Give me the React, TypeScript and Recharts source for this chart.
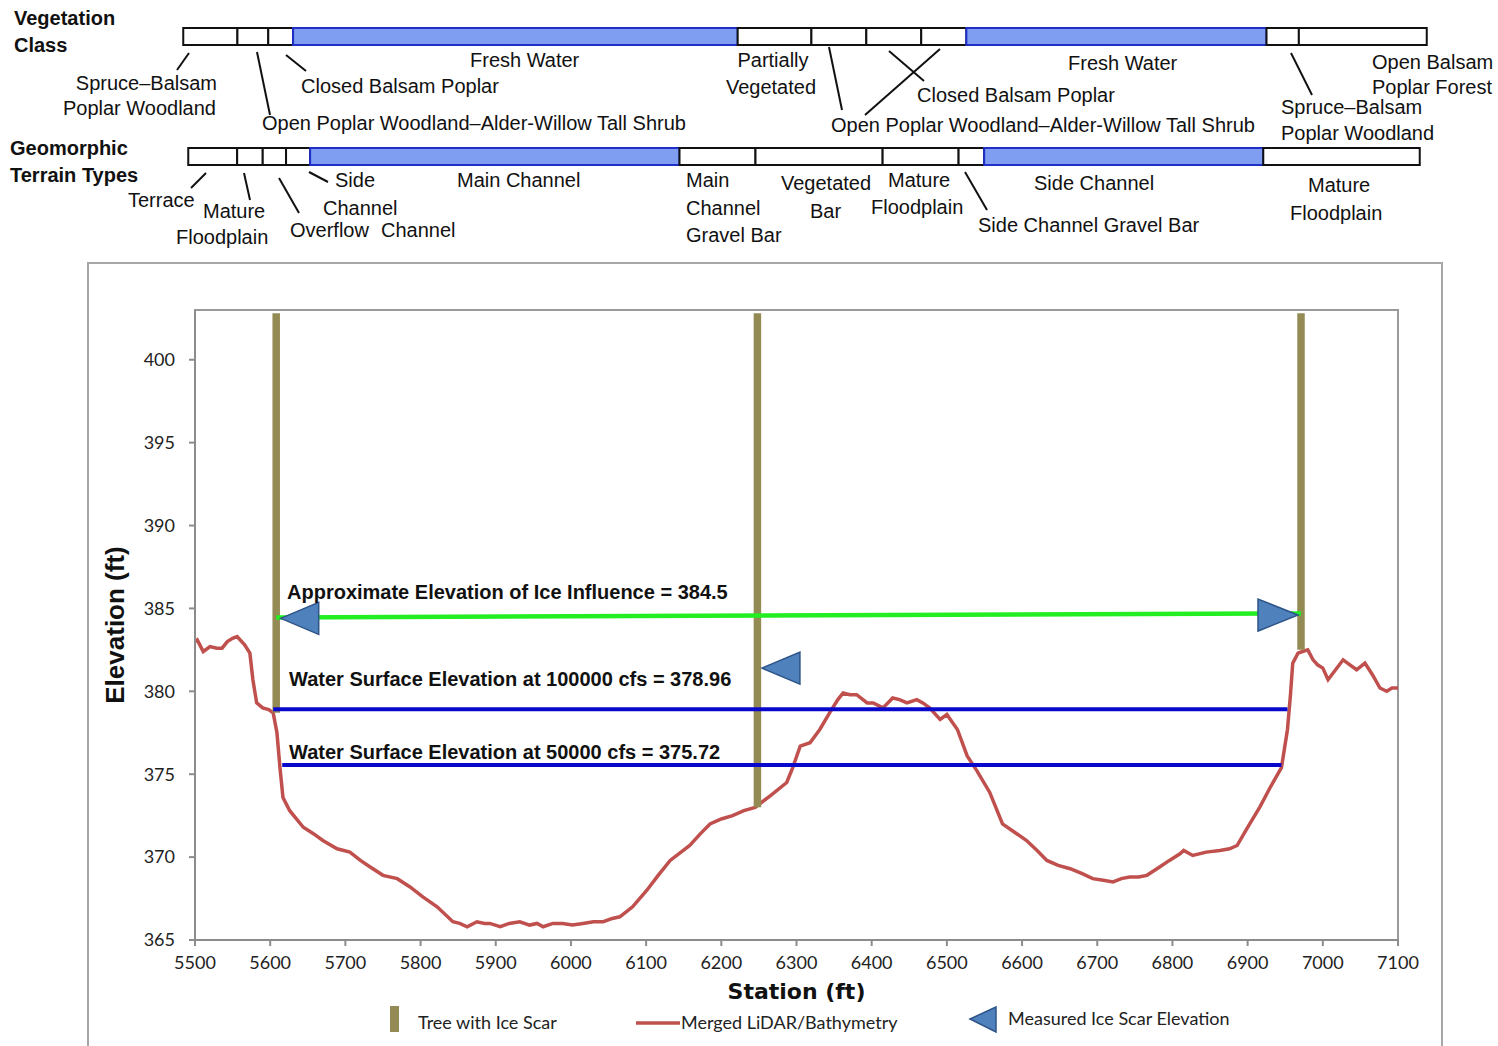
import React from 'react';
import { BarChart, Bar, ComposedChart, Line, Scatter, XAxis, YAxis, ReferenceLine, ReferenceArea } from 'recharts';

// ground profile (merged LiDAR / bathymetry), station ft -> elevation ft
const stations = [
  5500, 5503, 5511, 5520, 5529, 5536, 5543, 5550, 5556, 5566, 5573, 5577, 5582, 5590, 5598, 5604,
  5609, 5613, 5617, 5626, 5644, 5658, 5670, 5689, 5706, 5720, 5733, 5750, 5769, 5786, 5803, 5822,
  5843, 5852, 5862, 5875, 5885, 5892, 5906, 5918, 5932, 5945, 5955, 5963, 5976, 5989, 6002, 6016,
  6030, 6043, 6055, 6065, 6082, 6101, 6116, 6132, 6158, 6172, 6185, 6200, 6215, 6230, 6245, 6265,
  6287, 6295, 6305, 6318, 6331, 6344, 6355, 6362, 6371, 6380, 6394, 6402, 6415, 6428, 6437, 6447,
  6460, 6468, 6477, 6491, 6500, 6514, 6527, 6540, 6557, 6574, 6590, 6606, 6620, 6633, 6648, 6664,
  6680, 6694, 6708, 6721, 6732, 6743, 6755, 6766, 6783, 6796, 6810, 6815, 6827, 6845, 6863, 6876,
  6886, 6900, 6916, 6930, 6945, 6953, 6957, 6960, 6967, 6973, 6980, 6987, 6993, 7000, 7007, 7017,
  7027, 7036, 7045, 7056, 7066, 7076, 7085, 7092, 7100,
];
const elevations = [
  383.0, 383.1, 382.4, 382.7, 382.6, 382.6, 383.0, 383.2, 383.3, 382.8, 382.3, 380.7, 379.3, 379.0, 378.9, 378.7,
  377.5, 375.4, 373.6, 372.8, 371.8, 371.4, 371.0, 370.5, 370.3, 369.8, 369.4, 368.9, 368.7, 368.2, 367.6, 367.0,
  366.1, 366.0, 365.8, 366.1, 366.0, 366.0, 365.8, 366.0, 366.1, 365.9, 366.0, 365.8, 366.0, 366.0, 365.9, 366.0,
  366.1, 366.1, 366.3, 366.4, 367.0, 368.0, 368.9, 369.8, 370.7, 371.4, 372.0, 372.3, 372.5, 372.8, 373.0, 373.7,
  374.5, 375.4, 376.7, 376.9, 377.7, 378.7, 379.5, 379.9, 379.8, 379.8, 379.3, 379.3, 379.0, 379.6, 379.5, 379.3,
  379.5, 379.3, 379.0, 378.3, 378.6, 377.7, 376.1, 375.2, 373.9, 372.0, 371.5, 371.0, 370.4, 369.8, 369.5, 369.3,
  369.0, 368.7, 368.6, 368.5, 368.7, 368.8, 368.8, 368.9, 369.4, 369.8, 370.2, 370.4, 370.1, 370.3, 370.4, 370.5,
  370.7, 371.8, 373.0, 374.2, 375.4, 377.7, 379.8, 381.7, 382.3, 382.4, 382.5, 381.9, 381.6, 381.4, 380.7, 381.3,
  381.9, 381.6, 381.3, 381.7, 381.0, 380.2, 380.0, 380.2, 380.2,
];

// trees with ice scars
const treeStations = [5608, 6248, 6971];
const treeBase = [378.7, 373.0, 382.5];
const treeTop = 402.8;

// measured scar elevations (triangles point at the tree)
const scarLeftStations = [5614, 6254];
const scarLeftElev = [384.4, 381.4];
const scarRightStations = [6967];
const scarRightElev = [384.6];

// ice influence line and water surfaces
const iceStations = [5608, 6971];
const iceElev = [384.45, 384.7];
const wseStart = [5604, 5616];
const wseEnd = [6953, 6945];
const wseElev = [378.92, 375.55];

const xTicks = [5500, 5600, 5700, 5800, 5900, 6000, 6100, 6200, 6300, 6400, 6500, 6600, 6700, 6800, 6900, 7000, 7100];
const yTicks = [365, 370, 375, 380, 385, 390, 395, 400];

// class strips above the chart (edges in station ft)
const vegEdges = [5484, 5556, 5597, 5630, 6221, 6319, 6392, 6465, 6525, 6924, 6967, 7137];
const vegClass = [
  'Spruce–Balsam Poplar Woodland', 'Open Poplar Woodland–Alder-Willow Tall Shrub', 'Closed Balsam Poplar',
  'Fresh Water', 'Partially Vegetated', 'Open Poplar Woodland–Alder-Willow Tall Shrub', 'Closed Balsam Poplar',
  'Open Poplar Woodland–Alder-Willow Tall Shrub', 'Fresh Water', 'Spruce–Balsam Poplar Woodland', 'Open Balsam Poplar Forest',
];
const vegWet = vegClass.map((c) => c === 'Fresh Water');

const geoEdges = [5491, 5556, 5590, 5621, 5653, 6144, 6245, 6414, 6515, 6549, 6920, 7128];
const geoClass = [
  'Terrace', 'Mature Floodplain', 'Overflow Channel', 'Side Channel', 'Main Channel', 'Main Channel Gravel Bar',
  'Vegetated Bar', 'Mature Floodplain', 'Side Channel Gravel Bar', 'Side Channel', 'Mature Floodplain',
];
const geoWet = [false, false, false, false, true, false, false, false, false, true, false];

const profile = stations.map((s, i) => ({ station: s, elev: elevations[i] }));
const scarsLeft = scarLeftStations.map((s, i) => ({ station: s, elev: scarLeftElev[i] }));
const scarsRight = scarRightStations.map((s, i) => ({ station: s, elev: scarRightElev[i] }));

const arial = "'Liberation Sans', Arial, sans-serif";
const narrow = "'Liberation Sans Narrow', 'Arial Narrow', 'Liberation Sans', Arial, sans-serif";
const lato = "Lato, 'Open Sans', sans-serif";

const TREE = '#948A54';
const RED = '#C0504D';
const TRI_FILL = '#4F81BD';
const TRI_EDGE = '#2E5488';

const leftTri = (p: any) => {
  const { cx, cy } = p;
  return <polygon points={`${cx},${cy} ${cx + 38},${cy - 16} ${cx + 38},${cy + 16}`} fill={TRI_FILL} stroke={TRI_EDGE} strokeWidth={1.5} />;
};
const rightTri = (p: any) => {
  const { cx, cy } = p;
  return <polygon points={`${cx},${cy} ${cx - 40},${cy - 16} ${cx - 40},${cy + 16}`} fill={TRI_FILL} stroke={TRI_EDGE} strokeWidth={1.5} />;
};

type BandProps = { name: string; edges: number[]; wet: boolean[]; left: number; top: number; width: number };

// one strip of class boxes as a stacked horizontal bar
const Band = ({ name, edges, wet, left, top, width }: BandProps) => {
  const row: Record<string, any> = { name, lead: edges[0] };
  edges.slice(1).forEach((e, i) => {
    row['s' + i] = e - edges[i];
  });
  return (
    <div style={{ position: 'absolute', left, top }}>
      <BarChart layout="vertical" width={width} height={21} margin={{ top: 0, right: 0, bottom: 0, left: 0 }} data={[row]} barCategoryGap={0}>
        <XAxis type="number" hide domain={[edges[0] - 3, edges[edges.length - 1] + 3]} allowDataOverflow />
        <YAxis type="category" dataKey="name" hide />
        <Bar dataKey="lead" stackId="a" fill="none" barSize={17} isAnimationActive={false} />
        {edges.slice(1).map((_, i) => (
          <Bar
            key={i}
            dataKey={'s' + i}
            stackId="a"
            barSize={17}
            fill={wet[i] ? '#7F9EF2' : '#ffffff'}
            stroke={wet[i] ? '#1F2FC8' : '#111'}
            strokeWidth={2}
            isAnimationActive={false}
          />
        ))}
      </BarChart>
    </div>
  );
};

// annotation text: [text, x, baseline, anchor]
const stripLabels: [string, number, number, string][] = [
  ['Fresh Water', 470, 67, 'start'],
  ['Spruce–Balsam', 217, 90, 'end'],
  ['Poplar Woodland', 216, 115, 'end'],
  ['Closed Balsam Poplar', 301, 93, 'start'],
  ['Open Poplar Woodland–Alder-Willow Tall Shrub', 262, 130, 'start'],
  ['Partially', 773, 67, 'middle'],
  ['Vegetated', 771, 94, 'middle'],
  ['Fresh Water', 1068, 70, 'start'],
  ['Closed Balsam Poplar', 917, 102, 'start'],
  ['Open Poplar Woodland–Alder-Willow Tall Shrub', 831, 132, 'start'],
  ['Open Balsam', 1372, 69, 'start'],
  ['Poplar Forest', 1372, 94, 'start'],
  ['Spruce–Balsam', 1281, 114, 'start'],
  ['Poplar Woodland', 1281, 140, 'start'],
  ['Side', 335, 187, 'start'],
  ['Channel', 323, 215, 'start'],
  ['Overflow', 290, 237, 'start'],
  ['Channel', 381, 237, 'start'],
  ['Terrace', 128, 207, 'start'],
  ['Mature', 203, 218, 'start'],
  ['Floodplain', 176, 244, 'start'],
  ['Main Channel', 457, 187, 'start'],
  ['Main', 686, 187, 'start'],
  ['Channel', 686, 215, 'start'],
  ['Gravel Bar', 686, 242, 'start'],
  ['Vegetated', 781, 190, 'start'],
  ['Bar', 810, 218, 'start'],
  ['Mature', 888, 187, 'start'],
  ['Floodplain', 871, 214, 'start'],
  ['Side Channel Gravel Bar', 978, 232, 'start'],
  ['Side Channel', 1034, 190, 'start'],
  ['Mature', 1308, 192, 'start'],
  ['Floodplain', 1290, 220, 'start'],
];
const headLabels: [string, number, number][] = [
  ['Vegetation', 14, 25],
  ['Class', 14, 52],
  ['Geomorphic', 10, 155],
  ['Terrain Types', 10, 182],
];
// leader lines x1, y1, x2, y2
const leaders = [
  [189, 53, 177, 70], [257, 52, 270, 115], [286, 55, 306, 71],
  [829, 47, 842, 110], [889, 51, 924, 81], [940, 49, 865, 115], [1291, 53, 1312, 95],
  [206, 173, 191, 188], [244, 173, 250, 200], [279, 178, 299, 213], [309, 172, 328, 182], [965, 172, 987, 210],
];
const plotLabels: [string, number, number][] = [
  ['Approximate Elevation of Ice Influence = 384.5', 287, 599],
  ['Water Surface Elevation at 100000 cfs = 378.96', 289, 686],
  ['Water Surface Elevation at 50000 cfs = 375.72', 289, 759],
];

export default function App() {
  return (
    <div style={{ position: 'absolute', left: 0, top: 0, width: 1498, height: 1046, overflow: 'hidden', background: '#fff' }}>
      <Band name="veg" edges={vegEdges} wet={vegWet} left={181} top={26} width={1248} />
      <Band name="geo" edges={geoEdges} wet={geoWet} left={186} top={146} width={1236} />

      <div style={{ position: 'absolute', left: 87, top: 262, width: 1352, height: 800, border: '2px solid #a6a6a6' }} />

      <div style={{ position: 'absolute', left: 87, top: 262 }}>
        <ComposedChart width={1354} height={784} margin={{ top: 48, right: 43, bottom: 76, left: 48 }}>
          <XAxis
            type="number"
            dataKey="station"
            domain={[5500, 7100]}
            ticks={xTicks}
            interval={0}
            height={30}
            stroke="#8c8c8c"
            strokeWidth={2}
            tickSize={6}
            tickMargin={10}
            tick={{ fill: '#222', fontSize: 18, fontFamily: lato }}
            label={{ value: 'Station (ft)', position: 'bottom', offset: 13, style: { fill: '#111', fontSize: 22, fontWeight: 700, fontFamily: "'DejaVu Sans', sans-serif" } }}
          />
          <YAxis
            type="number"
            domain={[365, 403]}
            ticks={yTicks}
            interval={0}
            width={60}
            stroke="#8c8c8c"
            strokeWidth={2}
            tickSize={6}
            tickMargin={14}
            tick={{ fill: '#222', fontSize: 18, fontFamily: lato }}
            label={{ value: 'Elevation (ft)', angle: -90, position: 'left', offset: 20, style: { textAnchor: 'middle', fill: '#111', fontSize: 26, fontWeight: 700, fontFamily: narrow } }}
          />
          <ReferenceArea x1={5500} x2={7100} y1={365} y2={403} fill="none" stroke="#9a9a9a" strokeWidth={2} />
          <Line data={profile} dataKey="elev" stroke={RED} strokeWidth={3.5} dot={false} activeDot={false} isAnimationActive={false} />
          <Scatter data={scarsLeft} dataKey="elev" shape={leftTri} isAnimationActive={false} />
          <Scatter data={scarsRight} dataKey="elev" shape={rightTri} isAnimationActive={false} />
          {treeStations.map((s, i) => (
            <ReferenceLine key={'t' + i} segment={[{ x: s, y: treeBase[i] }, { x: s, y: treeTop }]} stroke={TREE} strokeWidth={7.5} />
          ))}
          <ReferenceLine segment={[{ x: iceStations[0], y: iceElev[0] }, { x: iceStations[1], y: iceElev[1] }]} stroke="#22EE22" strokeWidth={4.5} />
          {wseElev.map((e, i) => (
            <ReferenceLine key={'w' + i} segment={[{ x: wseStart[i], y: e }, { x: wseEnd[i], y: e }]} stroke="#0808CC" strokeWidth={4} />
          ))}
        </ComposedChart>
      </div>

      <svg width={1498} height={1046} style={{ position: 'absolute', left: 0, top: 0, pointerEvents: 'none' }}>
        {headLabels.map(([t, x, y], i) => (
          <text key={'h' + i} x={x} y={y} fontFamily={arial} fontWeight={700} fontSize={20} fill="#111">{t}</text>
        ))}
        {stripLabels.map(([t, x, y, a], i) => (
          <text key={'s' + i} x={x} y={y} textAnchor={a as any} fontFamily={arial} fontSize={20} fill="#111">{t}</text>
        ))}
        {leaders.map(([x1, y1, x2, y2], i) => (
          <line key={'l' + i} x1={x1} y1={y1} x2={x2} y2={y2} stroke="#111" strokeWidth={2} />
        ))}
        {plotLabels.map(([t, x, y], i) => (
          <text key={'p' + i} x={x} y={y} fontFamily={arial} fontWeight={700} fontSize={20} fill="#111">{t}</text>
        ))}

        <rect x={390} y={1006} width={9} height={26} fill={TREE} />
        <text x={418} y={1029} fontFamily={lato} fontSize={18} fill="#222">Tree with Ice Scar</text>
        <line x1={636} y1={1023} x2={680} y2={1023} stroke={RED} strokeWidth={3.5} />
        <text x={681} y={1029} fontFamily={lato} fontSize={18} fill="#222">Merged LiDAR/Bathymetry</text>
        <polygon points="970,1019 996,1007 996,1032" fill={TRI_FILL} stroke={TRI_EDGE} strokeWidth={1.5} />
        <text x={1008} y={1025} fontFamily={lato} fontSize={18} fill="#222">Measured Ice Scar Elevation</text>
      </svg>
    </div>
  );
}
